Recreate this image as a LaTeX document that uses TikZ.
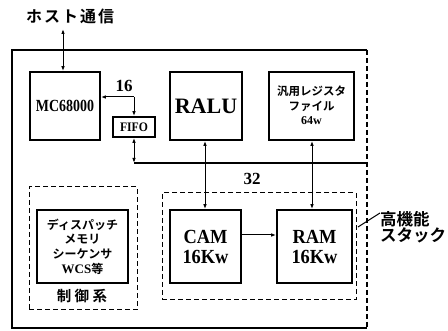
\documentclass[tikz,border=0pt]{standalone}
\usepackage{fontspec}
\setmainfont{Liberation Serif}
\newfontfamily\jp{Noto Sans CJK JP}[BoldFont={* Bold}]
\usetikzlibrary{arrows.meta}
\begin{document}
\begin{tikzpicture}[x=1pt,y=-1pt,
  blk/.style={draw,line width=1.6pt,inner sep=0pt},
  dbox/.style={draw,line width=1pt,dash pattern=on 5pt off 3pt},
  conn/.style={line width=1pt,{Latex[length=5pt,width=3.5pt]}-{Latex[length=5pt,width=3.5pt]}},
  oneway/.style={line width=1pt,-{Latex[length=5pt,width=3.5pt]}},
  jt/.style={align=center,inner sep=0pt}]
\useasboundingbox (0,0) rectangle (448,331);
% outer frame
\draw[line width=1.2pt] (367,50) -- (12,50) -- (12,328) -- (367,328);
\draw[line width=1.2pt,dash pattern=on 5pt off 3pt] (367,50) -- (367,328);
% blocks
\node[blk,minimum width=70pt,minimum height=68pt] (mc) at (65,106) {};
\node[font=\bfseries\fontsize{17}{18}\selectfont] at (mc) {\scalebox{0.82}[1]{MC68000}};
\node[blk,minimum width=42pt,minimum height=20pt] (fifo) at (134,127) {};
\node[font=\bfseries\fontsize{13}{14}\selectfont] at (fifo) {\scalebox{0.9}[1]{FIFO}};
\node[blk,minimum width=72pt,minimum height=68pt] (ralu) at (206,106) {};
\node[font=\bfseries\fontsize{22}{24}\selectfont] at (ralu) {RALU};
\node[blk,minimum width=85pt,minimum height=68pt] (reg) at (311.5,106) {};
\node[jt,font=\jp\bfseries\fontsize{11.5}{15.5}\selectfont] at ([yshift=1pt]reg.center) {汎用レジスタ\\ファイル\\[-2pt]{\rmfamily\bfseries\fontsize{12}{12}\selectfont 64w}};
% control
\node[dbox,minimum width=108pt,minimum height=123pt] (ctl) at (83,248.5) {};
\node[blk,minimum width=91pt,minimum height=73pt] (disp) at (82.5,246.5) {};
\node[jt,font=\jp\bfseries\fontsize{12}{14.7}\selectfont] at (disp) {ディスパッチ\\メモリ\\シーケンサ\\{\rmfamily\bfseries\fontsize{13}{13}\selectfont WCS}等};
\node[font=\jp\bfseries\fontsize{14.5}{16}\selectfont] (ctltxt) at (82,296) {制\hspace{3.5pt}御\hspace{3.5pt}系};
% stack
\node[dbox,minimum width=194pt,minimum height=107pt] (stk) at (259,246.5) {};
\node[blk,minimum width=71pt,minimum height=73pt] (cam) at (205.5,246.5) {};
\node[jt,font=\bfseries\fontsize{20}{20}\selectfont] at (cam) {\scalebox{0.92}[1]{CAM}\\\scalebox{0.92}[1]{16Kw}};
\node[blk,minimum width=75pt,minimum height=73pt] (ram) at (314.5,246.5) {};
\node[jt,font=\bfseries\fontsize{20}{20}\selectfont] at (ram) {\scalebox{0.92}[1]{RAM}\\\scalebox{0.92}[1]{16Kw}};
\draw[oneway] (cam.east |- 0,235) -- (ram.west |- 0,235);
% labels
\node[font=\jp\bfseries\fontsize{16}{18}\selectfont,anchor=west,inner sep=0pt] (host) at (26,16) {ホ\hspace{2pt}ス\hspace{2pt}ト\hspace{2pt}通\hspace{2pt}信};
\coordinate (hostend) at (63,29);
\draw[conn] (hostend) -- (mc.north -| hostend);
\node[font=\bfseries\fontsize{17}{18}\selectfont] (l16) at (124,86) {16};
\node[font=\bfseries\fontsize{17}{18}\selectfont] (l32) at (252,179) {32};
\node[jt,font=\jp\bfseries\fontsize{16.5}{16.5}\selectfont,align=left,anchor=west] (hs) at (380,227) {高機能\\スタック};
\draw[line width=1pt] (hs.west |- 0,213) -- (358,227);
% bus
\coordinate (busL) at (134,163);
\coordinate (busR) at (367,163);
\draw[line width=2.2pt] (busL) -- (busR);
\coordinate (j16) at (134,97);
\draw[oneway] (j16) -- (mc.east |- j16);
\draw[oneway] (j16) -- (fifo.north);
\draw[conn] (fifo.south) -- (busL);
\draw[conn] (ralu.south -| 205,0) -- (cam.north -| 205,0);
\draw[conn] (reg.south -| 312,0) -- (ram.north -| 312,0);
\end{tikzpicture}
\end{document}
